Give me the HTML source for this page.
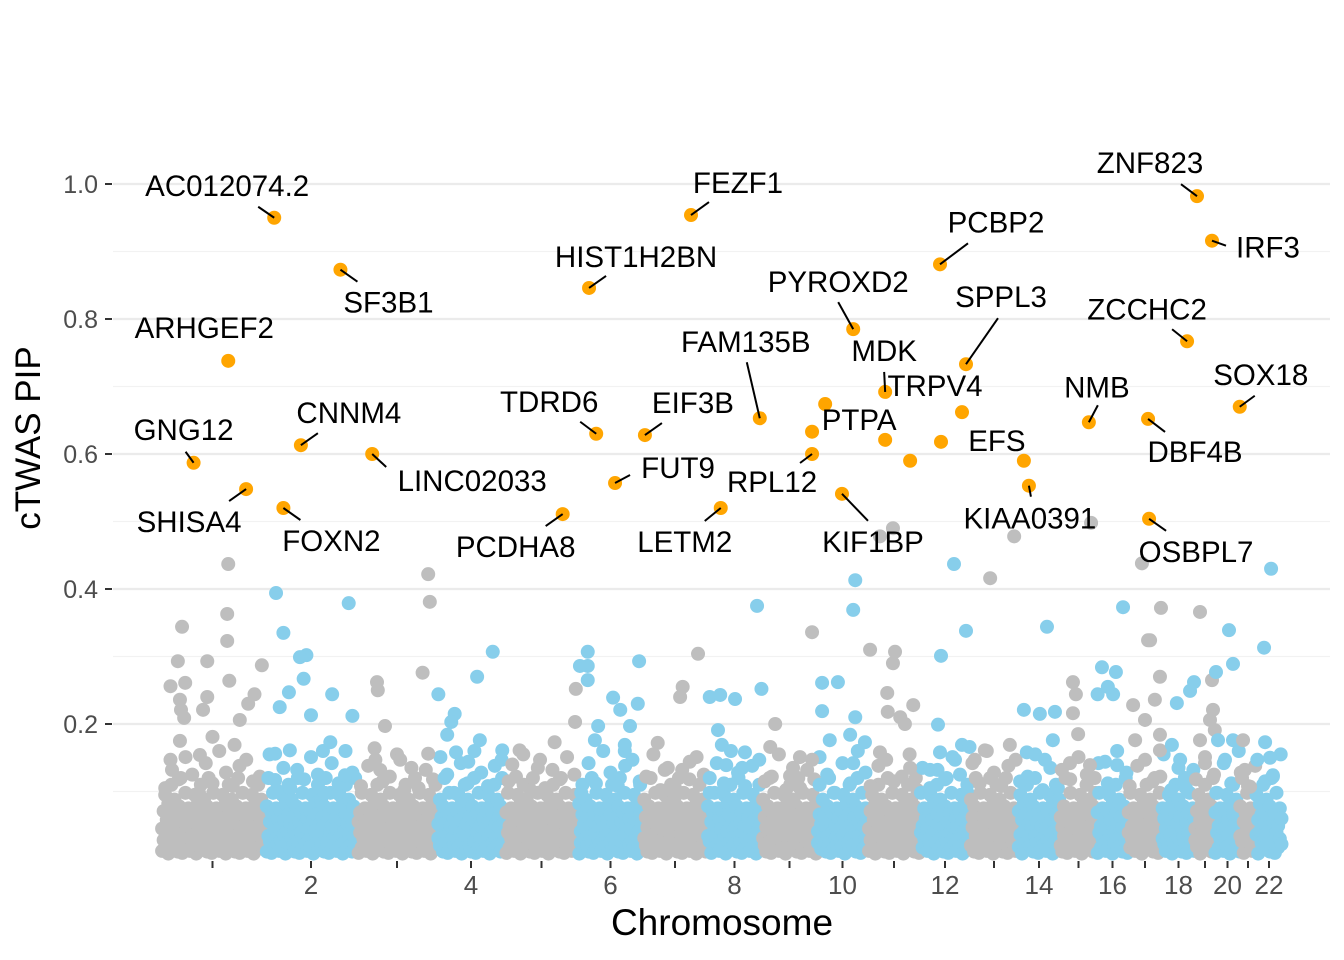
<!DOCTYPE html>
<html><head><meta charset="utf-8">
<style>
html,body{margin:0;padding:0;background:#fff;}
svg{display:block;font-family:"Liberation Sans",Arial,sans-serif;}
</style></head>
<body>
<svg id="chart" width="1344" height="960" viewBox="0 0 1344 960" xmlns="http://www.w3.org/2000/svg">
<g id="grid"></g>
<g id="bg"></g>
<g id="hits"></g>
<g id="labels"></g>
<g id="axes"></g>
<text x="722" y="935" font-size="37" text-anchor="middle" fill="#000">Chromosome</text>
<text transform="translate(40,438) rotate(-90)" font-size="35" text-anchor="middle" fill="#000">cTWAS PIP</text>
</svg>
<script>
// ---- data ----
const chromosomes = [1,2,3,4,5,6,7,8,9,10,11,12,13,14,15,16,17,18,19,20,21,22];
const xTickLabels = ["","2","","4","","6","","8","","10","","12","","14","","16","","18","","20","","22"];
const yTicks = [0.2,0.4,0.6,0.8,1.0];
const yTickLabels = ["0.2","0.4","0.6","0.8","1.0"];
const chromLengths = [105,92,80,68,73,65,64,55,55,51,52,50,48,42,37,31,34,33,20,25,16,26];
const bgChr = [1,1,1,1,1,1,1,1,1,1,1,1,1,1,1,1,1,1,1,1,1,1,1,
 2,2,2,2,2,2,2,2,2,2,2,2,2,2,2,2,2,
 3,3,3,3,3,3,3,3,3,3,
 4,4,4,4,4,4,4,4,4,4,
 5,5,5,5,5,5,
 6,6,6,6,6,6,6,6,6,6,6,6,6,
 7,7,7,7,7,7,
 8,8,8,8,8,8,8,8,8,8,
 9,9,9,9,9,9,
 10,10,10,10,10,10,10,10,10,10,
 11,11,11,11,11,11,11,11,11,11,11,11,
 12,12,12,12,12,12,12,12,12,
 13,13,13,13,13,13,
 14,14,14,14,14,14,14,
 15,15,15,15,15,15,15,
 16,16,16,16,16,16,16,16,
 17,17,17,17,17,17,17,17,17,17,17,
 18,18,18,18,18,
 19,19,19,19,19,19,19,
 20,20,20,20,20,20,
 21,21,21,
 22,22,22,22,22];
const bgFrac = [.21,.17,.10,.24,.19,.20,.23,.19,.65,.64,.45,.41,.50,.66,.90,.97,.76,.71,.84,.10,.38,.64,.45,
 .12,.20,.26,.16,.45,.38,.42,.50,.73,.91,.95,.11,.27,.63,.71,.11,.87,
 .25,.26,.35,.22,.29,.89,.91,.82,.89,.54,
 .82,.59,.02,.26,.21,.15,.28,.46,.96,.63,
 .20,.10,.97,.96,.68,.48,
 .15,.72,.15,.03,.15,.54,.31,.80,.94,.92,.65,.26,.72,
 .86,.62,.58,.23,.73,.34,
 .91,.99,.05,.24,.51,.20,.27,.69,.35,.64,
 .91,.24,.15,.69,.51,.91,
 .10,.10,.75,.71,.41,.75,.65,.25,.71,.94,
 .48,.23,.04,.52,.48,.37,.38,.62,.87,.23,.81,.71,
 .68,.92,.42,.36,.40,.84,.70,.20,.99,
 .42,.92,.31,.83,.42,.10,
 .69,.14,.52,.88,.21,.83,.64,
 .84,.35,.43,.35,.49,.27,.81,
 .84,.16,.61,.02,.52,.35,.65,.26,
 .41,.59,.65,.97,.94,.79,.15,.50,.94,.21,.94,
 .97,.85,.45,.30,.55,
 .25,.85,.90,.75,.25,.50,.99,
 .56,.72,.04,.12,.72,.40,
 .19,.63,.30,
 .58,.31,.35,.54,.65];
const bgPip = [.344,.293,.256,.261,.236,.221,.209,.175,.437,.323,.293,.221,.181,.264,.244,.287,.206,.169,.230,.147,.154,.363,.240,
 .394,.335,.247,.225,.302,.299,.267,.213,.244,.379,.212,.156,.161,.160,.173,.117,.124,
 .262,.250,.197,.164,.132,.422,.381,.276,.156,.147,
 .307,.270,.244,.215,.203,.184,.158,.144,.161,.176,
 .161,.140,.252,.203,.173,.147,
 .307,.160,.286,.286,.265,.239,.197,.197,.293,.230,.221,.176,.169,
 .304,.255,.240,.172,.144,.132,
 .375,.252,.240,.243,.237,.191,.169,.158,.139,.135,
 .336,.200,.166,.151,.123,.147,
 .261,.219,.413,.369,.262,.210,.184,.176,.142,.173,
 .490,.478,.310,.307,.290,.246,.218,.210,.228,.158,.135,.200,
 .437,.338,.301,.199,.158,.169,.147,.132,.166,
 .416,.478,.161,.169,.120,.147,
 .344,.221,.215,.218,.158,.176,.147,
 .498,.262,.244,.216,.185,.142,.139,
 .373,.284,.277,.244,.244,.255,.139,.144,
 .438,.324,.324,.372,.270,.236,.228,.206,.184,.176,.161,
 .262,.249,.231,.169,.147,
 .366,.265,.221,.206,.176,.142,.191,
 .339,.289,.277,.176,.176,.147,
 .176,.107,.132,
 .430,.313,.173,.150,.124];
const lowPip = [.012,.045,.028,.071,.018,.095,.036,.058,.008,.082,.041,.024,.066,.110,.015,.052,.031,.088,.020,.062,.047,.011,.078,.034,.120,.026,.055,.009,.069,.039,.098,.017,.049,.030,.075,.022,.060];
const midPip = [.105,.132,.118,.151,.125,.098,.142,.112,.160,.128,.108,.138,.147,.115,.122,.155,.102,.135];
const hitGenes = ["AC012074.2","SF3B1","ARHGEF2","GNG12","CNNM4","LINC02033","SHISA4","FOXN2","HIST1H2BN","TDRD6","PCDHA8","FEZF1","EIF3B","FUT9","LETM2","FAM135B","PTPA","","RPL12","KIF1BP","PYROXD2","MDK","","","PCBP2","","TRPV4","SPPL3","EFS","KIAA0391","NMB","ZNF823","IRF3","ZCCHC2","SOX18","DBF4B","OSBPL7"];
const hitPos = [2.10,2.82,1.65,1.32,2.39,3.19,1.82,2.20,6.17,6.28,5.79,7.75,7.03,6.57,8.25,8.96,10.16,9.91,9.91,10.49,10.71,11.33,11.33,11.81,12.40,12.42,12.84,12.92,14.14,14.26,15.78,19.10,19.85,18.76,20.99,17.59,17.62];
const hitPip = [.950,.873,.738,.587,.613,.600,.548,.520,.846,.630,.511,.954,.628,.557,.520,.653,.674,.633,.600,.541,.785,.692,.621,.590,.881,.618,.662,.733,.590,.553,.647,.982,.916,.767,.670,.652,.504];
const labelLayout = [[-47,-32,-16,-11],[48,33,17,12],[-24,-33,0,0],[-10,-33,-8,-11],[48,-32,17,-12],[100,27,14,13],[-57,33,-17,12],[48,33,17,12],[47,-31,17,-12],[-47,-32,-16,-12],[-47,33,-17,12],[47,-32,18,-13],[48,-32,17,-12],[63,-15,15,-8],[-36,34,-16,13],[-14,-76,-13,-56],[34,16,0,0],[0,0,0,0],[-40,28,-12,9],[31,48,26,27],[-15,-47,-15,-27],[-1,-41,-1,-20],[0,0,0,0],[0,0,0,0],[56,-42,28,-21],[0,0,0,0],[-27,-26,0,0],[35,-67,32,-46],[-27,-20,0,0],[1,33,2,11],[8,-35,9,-17],[-47,-33,-16,-12],[56,7,14,5],[-40,-32,-15,-12],[21,-32,15,-11],[47,33,17,13],[47,33,17,12]];

const X0 = 160, Y0 = 859, YS = 675, R = 7;
const starts = [];
let acc = X0;
chromLengths.forEach(l => { starts.push(acc); acc += l; });
function xScale(chr, frac){ return starts[chr-1] + frac*chromLengths[chr-1]; }
function xPos(p){ const c = Math.floor(p); return xScale(c, p - c); }
function yScale(v){ return Y0 - v*YS; }
const NS = "http://www.w3.org/2000/svg";
function mk(tag, attrs, parent){ const e = document.createElementNS(NS, tag); for (const k in attrs) e.setAttribute(k, attrs[k]); parent.appendChild(e); return e; }
const grid = document.getElementById('grid'), bg = document.getElementById('bg'), hits = document.getElementById('hits'), labels = document.getElementById('labels'), axes = document.getElementById('axes');

[0.1,0.3,0.5,0.7,0.9].forEach(v => {
  const l = mk('line', {x1:113, x2:1330, y1:yScale(v), y2:yScale(v), stroke:'#F2F2F2', 'stroke-width':1.2}, grid);
  
  
});
yTicks.forEach((v,i) => {
  const l = mk('line', {x1:113, x2:1330, y1:yScale(v), y2:yScale(v), stroke:'#EBEBEB', 'stroke-width':2.2}, grid);
  
  
  const t = mk('line', {x1:105, x2:112, y1:yScale(v), y2:yScale(v), stroke:'#333', 'stroke-width':2}, axes);
  
  
  const tx = mk('text', {x:98, y:yScale(v)+9, 'font-size':25, 'text-anchor':'end', fill:'#4D4D4D'}, axes);
  tx.textContent = yTickLabels[i];
  
  
});
chromosomes.forEach((c,i) => {
  const cx = xScale(c, 0.5);
  const t = mk('line', {x1:cx, x2:cx, y1:861, y2:868, stroke:'#333', 'stroke-width':2}, axes);
  
  
  if (xTickLabels[i]) {
    const tx = mk('text', {x:cx, y:894, 'font-size':26, 'text-anchor':'middle', fill:'#4D4D4D'}, axes);
    tx.textContent = xTickLabels[i];
    
    
  }
});
function col(c){ return c % 2 === 0 ? '#87CEEB' : '#BEBEBE'; }
let k = 0, m = 0;
chromosomes.forEach(c => {
  const n = Math.round(chromLengths[c-1] / 1.6);
  for (let i = 0; i < n; i++) {
    const f = 0.02 + 0.96 * i / (n - 1);
    for (let rep = 0; rep < 2; rep++) {
      const v = lowPip[(k++) % lowPip.length];
      const p = mk('circle', {cx:xScale(c, f), cy:yScale(v), r:R, fill:col(c)}, bg);
      
      
    }
  }
  const n2 = Math.max(3, Math.round(chromLengths[c-1] / 7));
  for (let i = 0; i < n2; i++) {
    const f = 0.05 + 0.9 * i / (n2 - 1);
    const v = midPip[(m++) % midPip.length];
    const p = mk('circle', {cx:xScale(c, f), cy:yScale(v), r:R, fill:col(c)}, bg);
    
    
  }
});
bgPip.forEach((v,i) => {
  const c = bgChr[i];
  const p = mk('circle', {cx:xScale(c, bgFrac[i]), cy:yScale(v), r:R, fill:col(c)}, bg);
  
  
});
hitPip.forEach((v,i) => {
  const px = xPos(hitPos[i]), py = yScale(v);
  const p = mk('circle', {cx:px, cy:py, r:R, fill:'#FFA500'}, hits);
  
  
  const L = labelLayout[i];
  if (hitGenes[i]) {
    if (L[2] || L[3]) {
      const s = mk('line', {x1:px, y1:py, x2:px+L[2], y2:py+L[3], stroke:'#000', 'stroke-width':2}, labels);
      
      
    }
    const t = mk('text', {x:px+L[0], y:py+L[1]+10, 'font-size':29.5, 'text-anchor':'middle', fill:'#000'}, labels);
    t.textContent = hitGenes[i];
    
    
  }
});
</script>
</body></html>
